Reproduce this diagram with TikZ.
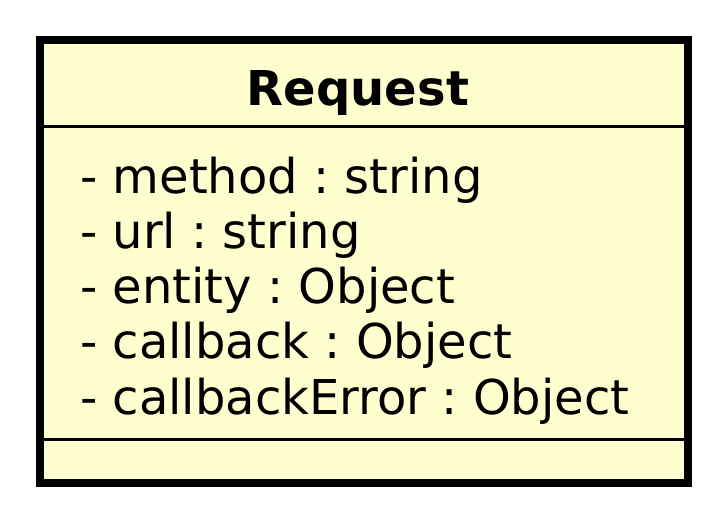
\documentclass[tikz,border=0pt]{standalone}
\usepackage{fontspec}
\setmainfont{DejaVu Sans}
\usepackage{tikz}
\definecolor{classbg}{HTML}{FEFECE}
\frenchspacing

\begin{document}
\begin{tikzpicture}[x=1pt, y=-1pt, every node/.style={font=\fontsize{48}{55}\selectfont, inner sep=0pt}]
  \useasboundingbox (0,0) rectangle (728,523);
  % Class box
  \draw[fill=classbg, line width=8pt] (40,40) rectangle (688,483);
  \draw[line width=3pt] (40,126) -- (688,126);
  \draw[line width=3pt] (40,439) -- (688,439);

  % Name
  \node[anchor=base, font=\fontsize{48}{55}\selectfont\bfseries] (name) at (358,105) {Request};

  % Attributes
  \node[anchor=base west] (method) at (80,193) {- method : string};
  \node[anchor=base west] (url) at (80,248.25) {- url : string};
  \node[anchor=base west] (entity) at (80,303.5) {- entity : Object};
  \node[anchor=base west] (callback) at (80,358.75) {- callback : Object};
  \node[anchor=base west] (callbackError) at (80,414) {- callbackError : Object};
\end{tikzpicture}
\end{document}
